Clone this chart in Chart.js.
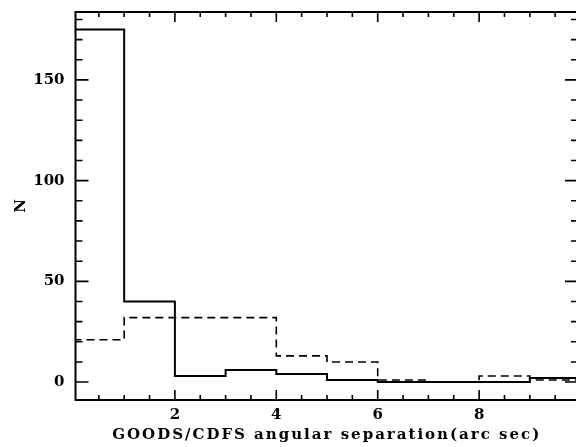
<!DOCTYPE html>
<html>
<head>
<meta charset="utf-8">
<script src="https://cdn.jsdelivr.net/npm/chart.js@4/dist/chart.umd.min.js"></script>
<style>
  html, body { margin: 0; padding: 0; background: #fff; overflow: hidden; }
  #wrap { width: 576px; height: 447px; overflow: hidden; }
</style>
</head>
<body>
<div id="wrap"><canvas id="sepChart" width="582" height="447"></canvas></div>
<script>
// bin edges in arc sec, and counts per bin for the two samples
const binEdges = [0, 1, 2, 3, 4, 5, 6, 7, 8, 9, 10];
const countsSolid = [175, 40, 3, 6, 4, 1, 0, 0, 0, 2];
const countsDashed = [21, 32, 32, 32, 13, 10, 1, 0, 3, 1];
const xTickLabels = [2, 4, 6, 8];
const yTickLabels = [0, 50, 100, 150];

const FONT = { family: 'DejaVu Serif', size: 15, weight: 'bold' };
const TITLE_FONT = { family: 'DejaVu Serif', size: 15, weight: 'bold' };

// step histogram points: one per left edge, plus closing point at the last edge
const toSteps = (counts) => {
    const pts = counts.map((c, i) => ({ x: binEdges[i], y: c }));
    pts.push({ x: binEdges[binEdges.length - 1], y: counts[counts.length - 1] });
    return pts;
};

// frame ticks on all four sides, pointing inwards
const frameTicks = {
    id: 'frameTicks',
    afterLayout(chart) {
        // wide letter spacing for the x-axis title only
        const sx = chart.scales.x;
        if (!sx._spaced) {
            const orig = sx.drawTitle;
            sx.drawTitle = function () {
                const c = this.ctx;
                c.save();
                c.letterSpacing = '2px';
                orig.call(this);
                c.restore();
            };
            sx._spaced = true;
        }
    },
    afterDraw(chart) {
        const { ctx, chartArea: a, scales: { x, y } } = chart;
        ctx.save();
        ctx.strokeStyle = '#000';
        ctx.lineWidth = 2;
        ctx.strokeRect(a.left, a.top, a.right - a.left, a.bottom - a.top);
        ctx.lineWidth = 1.6;
        ctx.beginPath();
        for (let v = 0.5; v < 10; v += 0.5) {
            const px = x.getPixelForValue(v);
            if (px < a.left || px > a.right) continue;
            const major = Math.abs(v % 2) < 1e-6;
            const len = major ? 10 : 5;
            ctx.moveTo(px, a.bottom); ctx.lineTo(px, a.bottom - len);
            ctx.moveTo(px, a.top); ctx.lineTo(px, a.top + len);
        }
        for (let v = -10; v <= 190; v += 10) {
            const py = y.getPixelForValue(v);
            if (py < a.top || py > a.bottom) continue;
            const major = v % 50 === 0;
            const len = major ? 13 : 7;
            ctx.moveTo(a.left, py); ctx.lineTo(a.left + len, py);
            ctx.moveTo(a.right, py); ctx.lineTo(a.right - len, py);
        }
        ctx.stroke();
        ctx.restore();
    }
};

new Chart(document.getElementById('sepChart'), {
    type: 'line',
    data: {
        datasets: [
            {
                data: toSteps(countsSolid),
                stepped: 'before',
                borderColor: '#000',
                borderWidth: 2,
                pointRadius: 0,
                fill: false
            },
            {
                data: toSteps(countsDashed),
                stepped: 'before',
                borderColor: '#000',
                borderWidth: 1.6,
                borderDash: [8, 5],
                pointRadius: 0,
                fill: false
            }
        ]
    },
    options: {
        responsive: false,
        animation: false,
        layout: { padding: { top: 12, right: 4, left: 0, bottom: 0 } },
        plugins: { legend: { display: false }, tooltip: { enabled: false } },
        scales: {
            x: {
                type: 'linear',
                min: 0.04,
                max: 9.95,
                grid: { display: false, drawTicks: false },
                border: { display: false },
                afterBuildTicks: (s) => { s.ticks = xTickLabels.map(v => ({ value: v })); },
                afterFit: (s) => { s.height = 47; s.paddingLeft = 0; s.paddingRight = 0; },
                ticks: { color: '#000', font: FONT, padding: 6, maxRotation: 0 },
                title: {
                    display: true,
                    text: 'GOODS/CDFS angular separation(arc sec)',
                    color: '#000',
                    font: TITLE_FONT,
                    padding: { top: 0, bottom: 3 }
                }
            },
            y: {
                min: -8.9,
                max: 183.7,
                grid: { display: false, drawTicks: false },
                border: { display: false },
                afterBuildTicks: (s) => { s.ticks = yTickLabels.map(v => ({ value: v })); },
                afterFit: (s) => { s.width = 75.5; s.paddingTop = 0; s.paddingBottom = 0; },
                ticks: { color: '#000', font: FONT, padding: 11 },
                title: {
                    display: true,
                    text: 'N',
                    color: '#000',
                    font: TITLE_FONT,
                    padding: { top: 12, bottom: 0 }
                }
            }
        }
    },
    plugins: [frameTicks]
});
</script>
</body>
</html>
